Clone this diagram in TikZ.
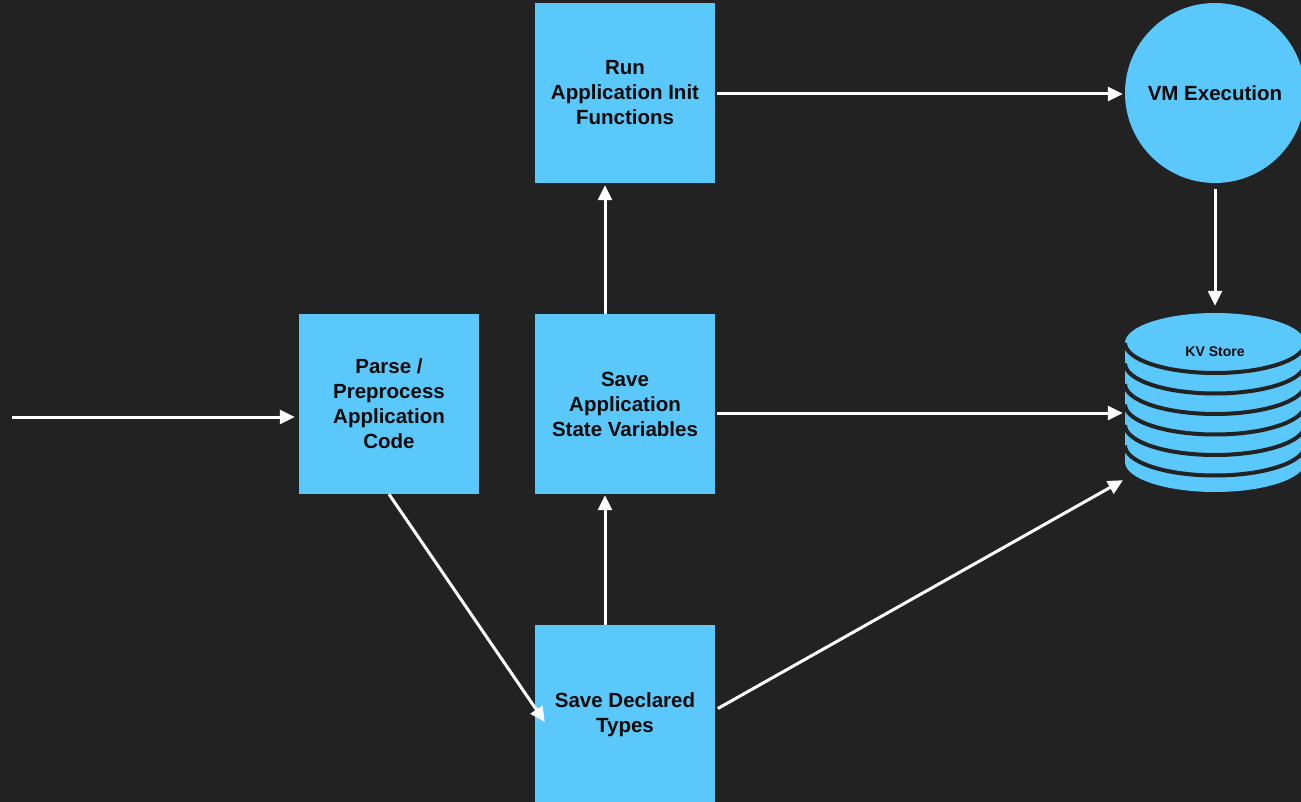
\documentclass[tikz,border=0pt]{standalone}
\usepackage{fontspec}
\setmainfont{Liberation Sans}
\usetikzlibrary{arrows.meta}
\definecolor{bgc}{HTML}{222222}
\definecolor{boxblue}{HTML}{5AC8FA}
\definecolor{txt}{HTML}{0A0A0A}
\begin{document}
\begin{tikzpicture}[x=1pt,y=-1pt,
  stepbox/.style={rectangle, fill=boxblue, draw=none, minimum width=180pt, minimum height=180pt, inner sep=0pt,
    align=center, text=txt, font=\fontsize{20.5}{25}\selectfont\bfseries},
  vmnode/.style={circle, fill=boxblue, draw=none, minimum size=180pt, inner sep=0pt,
    align=center, text=txt, font=\fontsize{20.5}{25}\selectfont\bfseries},
  arr/.style={draw=white, line width=3pt, -{Triangle[length=15pt,width=14pt]}},
  band/.style={draw=bgc, line width=4pt}
]
\useasboundingbox (0,0) rectangle (1301,802);
\fill[bgc] (0,0) rectangle (1301,802);

% nodes
\node[stepbox] (parse) at (389,404) {Parse /\\Preprocess\\Application\\Code};
\node[stepbox] (state) at (625,404) {Save\\Application\\State Variables};
\node[stepbox] (run)   at (625,93)  {Run\\Application Init\\Functions};
\node[stepbox] (types) at (625,715) {Save Declared\\Types};
\node[vmnode]  (vm)    at (1215,93) {VM Execution};

% KV store cylinder
\fill[boxblue] (1215,462) ellipse [x radius=90, y radius=30];
\fill[boxblue] (1125,343) rectangle (1305,462);
\fill[boxblue] (1215,343) ellipse [x radius=90, y radius=30];
\foreach \k in {0,...,5}{
  \draw[band] (1125,{343+20.5*\k}) arc[start angle=180, end angle=0, x radius=90, y radius=30];
}
\node[rectangle, minimum width=180pt, minimum height=179pt, inner sep=0pt] (kv) at (1215,402.5) {};
\node[text=txt, font=\fontsize{14}{16}\selectfont\bfseries] (kvlabel) at (1215,352) {KV Store};

% connectors
\coordinate (in) at (12,417);
\draw[arr, shorten >=4pt] (in) -- (in -| parse.west);
\draw[arr, shorten <=0pt] (parse.south) -- ([xshift=10pt,yshift=-7pt]types.west);
\draw[arr, shorten >=1pt] ([xshift=-20pt]types.north) -- ([xshift=-20pt]state.south);
\draw[arr, shorten >=2pt] ([xshift=-20pt]state.north) -- ([xshift=-20pt]run.south);
\draw[arr, shorten <=2pt, shorten >=2pt] ([yshift=-1pt]run.east) -- ([yshift=-1pt]run.east -| vm.west);
\draw[arr, shorten <=2pt, shorten >=2pt] ([yshift=-9pt]state.east) -- ([yshift=-9pt]state.east -| kv.west);
\draw[arr, shorten <=3pt, shorten >=2pt] ([yshift=5pt]types.east) -- ([yshift=13pt]kv.south west);
\draw[arr, shorten <=6pt, shorten >=7pt] (vm.south) -- (kv.north);
\end{tikzpicture}
\end{document}
